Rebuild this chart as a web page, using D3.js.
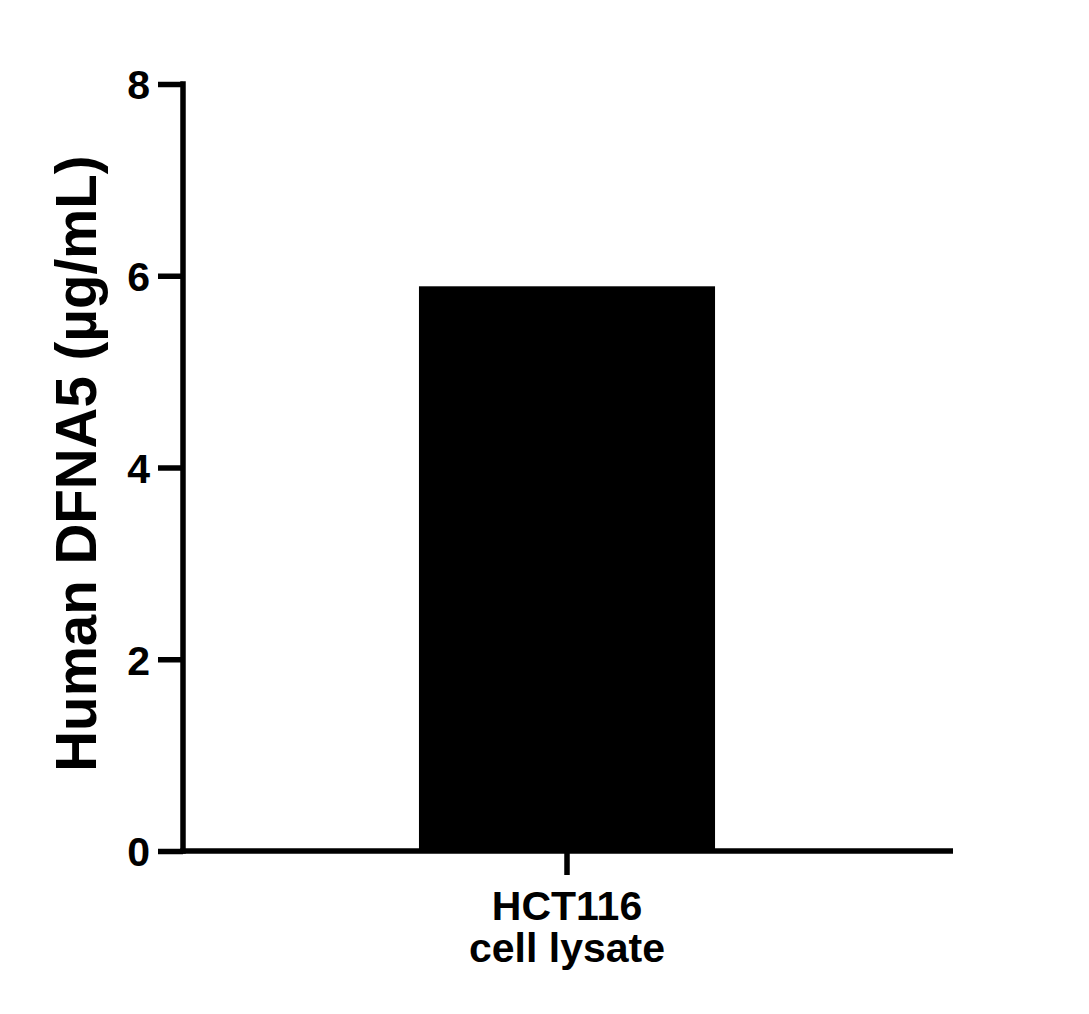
<!DOCTYPE html>
<html>
<head>
<meta charset="utf-8">
<script src="https://cdn.jsdelivr.net/npm/d3@7"></script>
<style>
  html, body { margin: 0; padding: 0; background: #fff; }
  svg { display: block; }
  text { font-family: "Liberation Sans", Arial, sans-serif; font-weight: bold; fill: #000; }
</style>
</head>
<body>
<script>
const categories = ["HCT116\ncell lysate"];
const values = [5.89];
const yTicks = [0, 2, 4, 6, 8];
const yTitle = "Human DFNA5 (µg/mL)";

const W = 1089, H = 1014;
const svg = d3.select("body").append("svg").attr("width", W).attr("height", H);

const x0 = 183, x1 = 951, y0 = 851, y1 = 84;
const y = d3.scaleLinear().domain([0, 8]).range([y0, y1]);
const x = d3.scaleBand().domain(categories).range([x0, x1]).paddingInner(0).paddingOuter(0.797);

// bars
svg.selectAll("rect.bar").data(values).enter().append("rect")
  .attr("class", "bar")
  .attr("x", (d, i) => x(categories[i]))
  .attr("width", x.bandwidth())
  .attr("y", d => y(d))
  .attr("height", d => y(0) - y(d))
  .attr("fill", "#000");

// y axis
const yAxis = d3.axisLeft(y).tickValues(yTicks).tickSize(25).tickPadding(8).tickSizeOuter(0);
const gy = svg.append("g").attr("transform", `translate(${x0},0)`).call(yAxis);
gy.select(".domain").attr("stroke", "#000").attr("stroke-width", 5.5)
  .attr("d", `M0,${y0 + 2.75}V${y1 - 2.75}`);
gy.selectAll(".tick line").attr("stroke", "#000").attr("stroke-width", 5.5);
gy.selectAll(".tick text").style("font-size", "41px").attr("dy", "0.36em")
  .style("font-family", "'Liberation Sans', Arial, sans-serif").style("font-weight", "bold");

// x axis
const xAxis = d3.axisBottom(x).tickSize(24).tickSizeOuter(0).tickFormat("");
const gx = svg.append("g").attr("transform", `translate(0,${y0})`).call(xAxis);
gx.select(".domain").attr("stroke", "#000").attr("stroke-width", 5.5)
  .attr("d", `M${x0 - 2.75},0H${x1 + 2}`);
gx.selectAll(".tick line").attr("stroke", "#000").attr("stroke-width", 5.5);

// x labels (two lines)
categories.forEach(c => {
  const lines = c.split("\n");
  const t = svg.append("text").attr("text-anchor", "middle").style("font-size", "41px");
  lines.forEach((ln, i) => {
    t.append("tspan").attr("x", x(c) + x.bandwidth() / 2).attr("y", 920 + i * 42).text(ln);
  });
});

// y title
svg.append("text")
  .attr("transform", `translate(96,${(y0 + y1) / 2 - 4}) rotate(-90)`)
  .attr("text-anchor", "middle")
  .style("font-size", "56.5px")
  .text(yTitle);
</script>
</body>
</html>
